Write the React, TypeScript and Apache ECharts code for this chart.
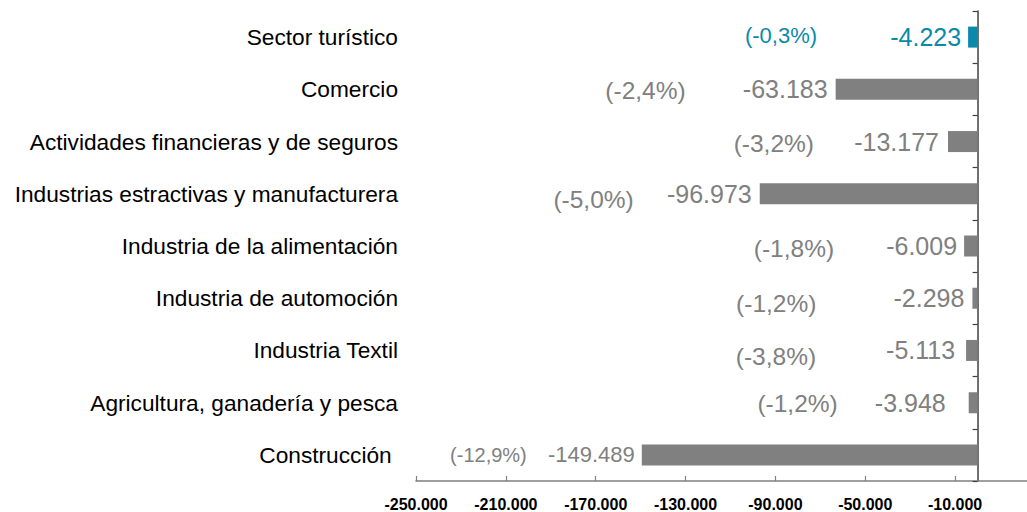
import React, { useEffect, useRef } from "react";
import * as echarts from "echarts";

// ---- data ----
const categories = [
  "Sector turístico",
  "Comercio",
  "Actividades financieras y de seguros",
  "Industrias estractivas y manufacturera",
  "Industria de la alimentación",
  "Industria de automoción",
  "Industria Textil",
  "Agricultura, ganadería y pesca",
  "Construcción ",
];
const values = [-4223, -63183, -13177, -96973, -6009, -2298, -5113, -3948, -149489];
const percents = [-0.3, -2.4, -3.2, -5.0, -1.8, -1.2, -3.8, -1.2, -12.9];
const tickValues = [-250000, -210000, -170000, -130000, -90000, -50000, -10000];

// ---- layout / style (not data) ----
const TEAL = "#0a8aab";
const GREY = "#808080";
const FONT = "'Liberation Sans', Arial, Helvetica, sans-serif";
const barColors = [TEAL, GREY, GREY, GREY, GREY, GREY, GREY, GREY, GREY];
const valueDist = [7, 8, 9, 8, 7, 8, 11, 23, 7];
const valueSize = [25, 25, 25, 25, 25, 25, 25, 25, 22];
const pctDist = [151, 150, 134, 126, 130, 156, 150, 131, 115];
const pctDy = [-2, 1, 2, 6, 2, 5, 6, 1, 0];
const pctSize = [22, 24.5, 24.5, 24.5, 24.5, 24.5, 24.5, 24.5, 20];

function fmtThousands(v: number): string {
  const s = Math.abs(Math.round(v)).toString();
  const withDots = s.replace(/\B(?=(\d{3})+(?!\d))/g, ".");
  return (v < 0 ? "-" : "") + withDots;
}
function fmtPct(p: number): string {
  return "(" + p.toFixed(1).replace(".", ",") + "%)";
}

export default function App() {
  const ref = useRef<HTMLDivElement>(null);
  useEffect(() => {
    if (!ref.current) return;
    const chart = echarts.init(ref.current, undefined, { renderer: "svg" });
    chart.setOption({
      animation: false,
      backgroundColor: "#ffffff",
      grid: { left: 416, right: 0, top: 11, bottom: 30, containLabel: false },
      xAxis: {
        type: "value",
        min: -250000,
        max: 22000,
        splitLine: { show: false },
        axisLine: { show: true, onZero: false, lineStyle: { color: "#7f7f7f", width: 1.5 } },
        axisTick: {
          show: true,
          inside: true,
          length: 5,
          customValues: tickValues,
          lineStyle: { color: "#7f7f7f", width: 1.2 },
        },
        axisLabel: {
          show: true,
          customValues: tickValues,
          formatter: (v: number) => fmtThousands(v),
          fontFamily: FONT,
          fontSize: 16,
          fontWeight: "bold",
          color: "#000",
          margin: 15,
        },
      },
      yAxis: [
        {
          type: "category",
          data: categories,
          inverse: true,
          position: "left",
          axisLine: { show: false, onZero: false },
          axisTick: { show: false },
          axisLabel: {
            fontFamily: FONT,
            fontSize: 22.7,
            color: "#000",
            margin: 18,
          },
        },
        {
          type: "category",
          data: categories,
          inverse: true,
          position: "left",
          axisLine: { show: true, onZero: true, lineStyle: { color: "#404040", width: 1.5 } },
          axisTick: { show: true, length: 5, lineStyle: { color: "#404040", width: 1.2 } },
          axisLabel: { show: false },
        },
      ],
      series: [
        {
          type: "bar",
          yAxisIndex: 0,
          barWidth: 21,
          z: 3,
          data: values.map((v, i) => ({
            value: v,
            itemStyle: { color: barColors[i] },
            label: {
              show: true,
              position: "left",
              distance: valueDist[i],
              color: barColors[i],
              fontSize: valueSize[i],
              fontFamily: FONT,
              formatter: () => fmtThousands(v),
            },
          })),
        },
        {
          type: "bar",
          yAxisIndex: 0,
          barWidth: 21,
          barGap: "-100%",
          silent: true,
          z: 2,
          data: values.map((v, i) => ({
            value: v,
            itemStyle: { color: "rgba(0,0,0,0)" },
            label: {
              show: true,
              position: "left",
              distance: pctDist[i],
              offset: [0, pctDy[i]],
              color: barColors[i],
              fontSize: pctSize[i],
              fontFamily: FONT,
              formatter: () => fmtPct(percents[i]),
            },
          })),
        },
      ],
    });
    return () => chart.dispose();
  }, []);
  return (
    <div
      ref={ref}
      style={{ position: "absolute", left: 0, top: 0, width: 1027, height: 512, background: "#fff" }}
    />
  );
}
